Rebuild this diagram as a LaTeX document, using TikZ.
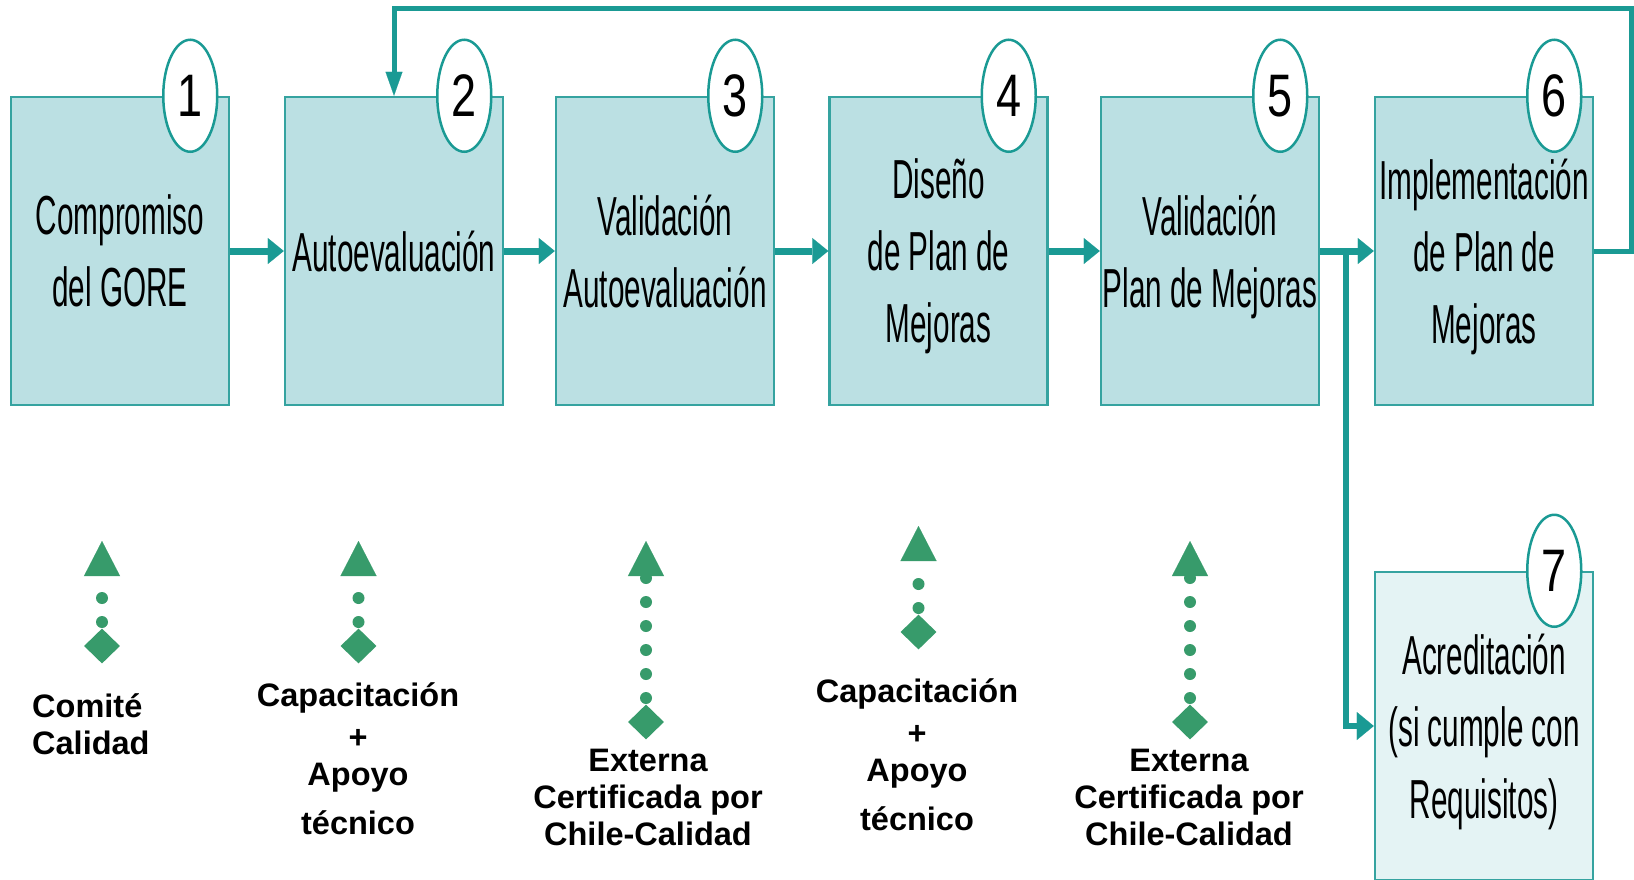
\documentclass[tikz,border=0pt]{standalone}
\usepackage{fontspec}
\setmainfont{Liberation Sans}
\usetikzlibrary{arrows.meta,shapes.geometric}
\definecolor{teal1}{HTML}{1A9A94}
\definecolor{boxfill}{HTML}{BBE0E3}
\definecolor{boxfillL}{HTML}{E4F3F4}
\definecolor{boxline}{HTML}{35A3A0}
\definecolor{grn}{HTML}{379B6B}
\newcommand\nar[1]{\raisebox{0pt}[\height][0pt]{\scalebox{0.54}[1]{#1}}}
\newcommand\dig[1]{\scalebox{0.75}[1]{#1}}
\begin{document}
\begin{tikzpicture}[x=1pt,y=-1pt,
  stepbox/.style={draw=boxline, line width=2.5pt, fill=boxfill, minimum width=218pt, minimum height=308pt, inner sep=0pt, align=center, font=\fontsize{55}{72}\selectfont},
  numb/.style={ellipse, draw=teal1, line width=2.5pt, fill=white, minimum width=54pt, minimum height=112pt, inner sep=0pt, font=\fontsize{60}{60}\selectfont},
  flow/.style={draw=teal1, line width=7pt, -{Triangle[width=26pt,length=16pt,line width=0.1pt]}},
  backflow/.style={draw=teal1, line width=5pt, -{Triangle[width=17pt,length=24pt,line width=0.1pt]}},
  branch/.style={draw=teal1, line width=5.5pt, -{Triangle[width=28pt,length=17pt,line width=0.1pt]}},
  gdiam/.style={diamond, fill=grn, minimum width=36pt, minimum height=35pt, inner sep=0pt, aspect=1},
  gdot/.style={draw=grn, line width=12pt, line cap=round, dash pattern=on 0pt off 24pt, -{Triangle[width=36pt,length=35pt,line width=0.1pt,fill=grn]}},
  lab/.style={font=\bfseries\fontsize{32.5}{37}\selectfont, align=center, inner sep=0pt}
]
\useasboundingbox (0,0) rectangle (1634,879);
\fill[white] (0,0) rectangle (1634,879);

% steps
\node[stepbox] (b1) at (120,251) {\nar{Compromiso}\\\nar{del GORE}};
\node[stepbox] (b2) at (394,251) {\nar{Autoevaluación}};
\node[stepbox] (b3) at (665,251) {\nar{Validación}\\\nar{Autoevaluación}};
\node[stepbox] (b4) at (938.5,251) {\nar{Diseño}\\\nar{de Plan de}\\\nar{Mejoras}};
\node[stepbox] (b5) at (1210,251) {\nar{Validación}\\\nar{Plan de Mejoras}};
\node[stepbox] (b6) at (1484,251) {\nar{Implementación}\\\nar{de Plan de}\\\nar{Mejoras}};
\node[stepbox, fill=boxfillL] (b7) at (1484,726) {\nar{Acreditación}\\\nar{(si cumple con}\\\nar{Requisitos)}};

% numbers
\node[numb] (n1) at ([xshift=-40pt]b1.north east) {\dig{1}};
\node[numb] (n2) at ([xshift=-40pt]b2.north east) {\dig{2}};
\node[numb] (n3) at ([xshift=-40pt]b3.north east) {\dig{3}};
\node[numb] (n4) at ([xshift=-40pt]b4.north east) {\dig{4}};
\node[numb] (n5) at ([xshift=-40pt]b5.north east) {\dig{5}};
\node[numb] (n6) at ([xshift=-40pt]b6.north east) {\dig{6}};
\node[numb] (n7) at ([xshift=-40pt]b7.north east) {\dig{7}};

% flow
\draw[flow] (b1) -- (b2);
\draw[flow] (b2) -- (b3);
\draw[flow] (b3) -- (b4);
\draw[flow] (b4) -- (b5);
\draw[flow] (b5) -- (b6);
\coordinate (fbR) at (1631,8);
\draw[backflow] (b6.east) -| (fbR) -| (b2.north);
\coordinate (br) at (1346,251);
\draw[branch] (br) |- (b7.west);

% support arrows
\node[gdiam] (d1) at (102,646) {};
\coordinate (t1) at (102,541);
\draw[gdot] (d1.center) -- (t1);
\node[gdiam] (d2) at (358.5,646) {};
\coordinate (t2) at (358.5,541);
\draw[gdot] (d2.center) -- (t2);
\node[gdiam] (d3) at (646,722) {};
\coordinate (t3) at (646,541);
\draw[gdot] (d3.center) -- (t3);
\node[gdiam] (d4) at (918.5,632) {};
\coordinate (t4) at (918.5,526);
\draw[gdot] (d4.center) -- (t4);
\node[gdiam] (d5) at (1190,722) {};
\coordinate (t5) at (1190,541);
\draw[gdot] (d5.center) -- (t5);

% labels
\node[lab, align=left, anchor=west] (l1) at (32,724) {Comité\\Calidad};
\node[lab] (l2) at (358,759) {Capacitación\\[5pt]+\\Apoyo\\[12pt]técnico};
\node[lab] (l3) at (648,797) {Externa\\Certificada por\\Chile-Calidad};
\node[lab] (l4) at (917,755) {Capacitación\\[5pt]+\\Apoyo\\[12pt]técnico};
\node[lab] (l5) at (1189,797) {Externa\\Certificada por\\Chile-Calidad};
\end{tikzpicture}
\end{document}
